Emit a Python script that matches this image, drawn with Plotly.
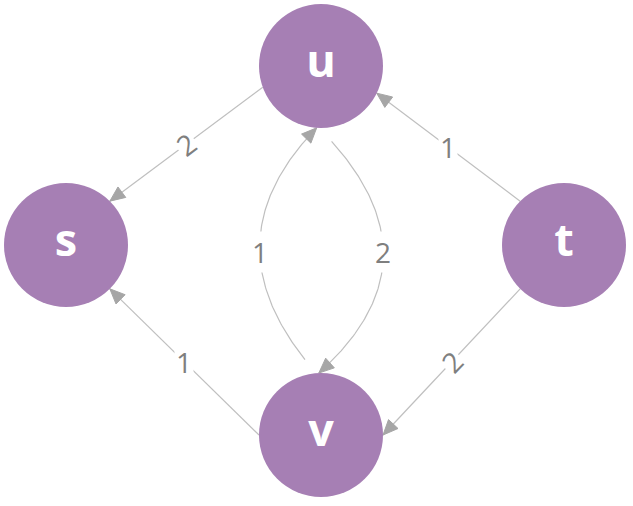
import numpy as np
import plotly.graph_objects as go

# nodes
node_names = ["s", "u", "t", "v"]
node_x = [66, 321, 564, 321]
node_y = [245, 66, 245, 435]

# edges (from, to, weight)
edge_from = ["u", "t", "v", "t", "v", "u"]
edge_to = ["s", "u", "s", "v", "u", "v"]
edge_weight = [2, 1, 1, 2, 1, 2]

# styling
R = 62
NODE_COLOR = "#a67fb4"
LINE_COLOR = "#bfbfbf"
HEAD_COLOR = "#a6a6a6"
LABEL_COLOR = "#7f7f7f"
# where the edges touch the circles (deg, 0 = right, + = down), tail gap, bend
src_ang = [160, -135, 180, 135, -102, 82]
dst_ang = [-45, 26, 45, 0, 94, -92]
src_gap = [0, 0, 0, 0, 15, 14]
bend = [0, 0, 0, 0, -51, -58]
label_rot = [-37, 0, 0, -46, 0, 0]

pos = {n: np.array([x, y], dtype=float) for n, x, y in zip(node_names, node_x, node_y)}


def port(name, ang, gap=0):
    a = np.deg2rad(ang)
    return pos[name] + (R + gap) * np.array([np.cos(a), np.sin(a)])


fig = go.Figure()
labels = []

for i in range(len(edge_from)):
    p0 = port(edge_from[i], src_ang[i], src_gap[i])
    p2 = port(edge_to[i], dst_ang[i])
    if bend[i] == 0:
        pts = np.array([p0, p2])
        end_dir = p2 - p0
        lab = (p0 + p2) / 2
    else:
        d = p2 - p0
        n = np.array([-d[1], d[0]]) / np.linalg.norm(d)
        mid = (p0 + p2) / 2
        apex = mid + bend[i] * n
        c = 2 * apex - mid
        t = np.linspace(0, 1, 120)[:, None]
        pts = (1 - t) ** 2 * p0 + 2 * t * (1 - t) * c + t ** 2 * p2
        end_dir = p2 - c
        # label half way between the two node centres
        ymid = (pos[edge_from[i]][1] + pos[edge_to[i]][1]) / 2 + 2
        lab = pts[np.argmin(np.abs(pts[:, 1] - ymid))]

    fig.add_trace(go.Scatter(x=pts[:, 0], y=pts[:, 1], mode="lines",
                             line=dict(color=LINE_COLOR, width=1.2),
                             hoverinfo="skip"))

    # arrow head
    u = end_dir / np.linalg.norm(end_dir)
    perp = np.array([-u[1], u[0]])
    base = p2 - 15 * u
    tri = np.array([p2, base + 6.5 * perp, base - 6.5 * perp, p2])
    fig.add_trace(go.Scatter(x=tri[:, 0], y=tri[:, 1], mode="lines", fill="toself",
                             fillcolor=HEAD_COLOR, line=dict(color=HEAD_COLOR, width=1),
                             hoverinfo="skip"))

    labels.append(dict(x=lab[0], y=lab[1], text=str(edge_weight[i]), showarrow=False,
                       bgcolor="white", borderpad=1, textangle=label_rot[i],
                       font=dict(family="Open Sans", size=28, color=LABEL_COLOR)))

fig.add_trace(go.Scatter(x=node_x, y=node_y, mode="markers+text", text=node_names,
                         marker=dict(size=2 * R, color=NODE_COLOR, line=dict(width=0)),
                         textposition="middle center",
                         textfont=dict(family="Open Sans", size=45, color="white", weight="bold"),
                         hoverinfo="skip"))

fig.update_layout(width=633, height=506, margin=dict(l=0, r=0, t=0, b=0),
                  plot_bgcolor="white", paper_bgcolor="white", showlegend=False,
                  annotations=labels,
                  xaxis=dict(range=[0, 633], visible=False),
                  yaxis=dict(range=[506, 0], visible=False))

fig.write_html("out.html", config={"displayModeBar": False},
               post_script="document.body.style.margin='0';")
